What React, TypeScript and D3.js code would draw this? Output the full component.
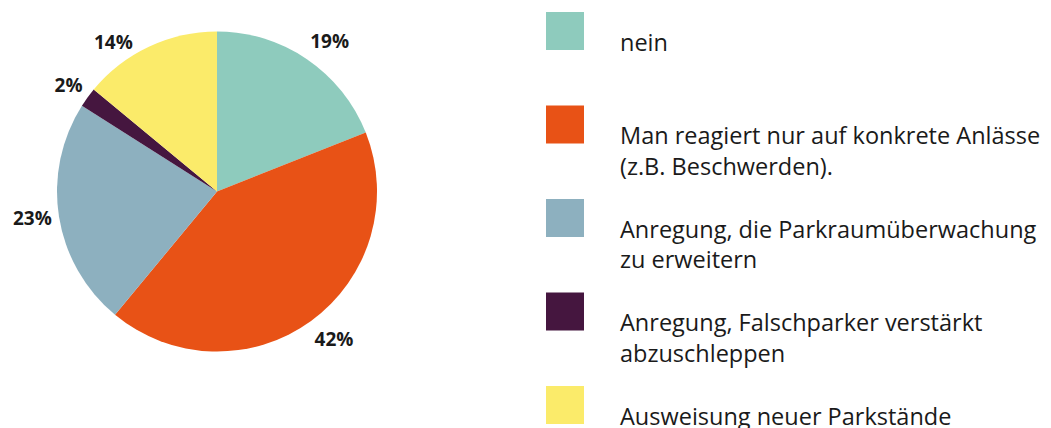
import React from "react";
import * as d3 from "d3";

const categories = [
  "nein",
  "Man reagiert nur auf konkrete Anlässe (z.B. Beschwerden).",
  "Anregung, die Parkraumüberwachung zu erweitern",
  "Anregung, Falschparker verstärkt abzuschleppen",
  "Ausweisung neuer Parkstände",
];
const values = [19, 42, 23, 2, 14];
const legendLines = [
  ["nein"],
  ["Man reagiert nur auf konkrete Anlässe", "(z.B. Beschwerden)."],
  ["Anregung, die Parkraumüberwachung", "zu erweitern"],
  ["Anregung, Falschparker verstärkt", "abzuschleppen"],
  ["Ausweisung neuer Parkstände"],
];
const colors = ["#8ECBBD", "#E85216", "#8DB0BF", "#45163F", "#FBEB6A"];

const W = 1051;
const H = 428;
const cx = 217;
const cy = 191.5;
const R = 160;
const FONT = "'Open Sans', 'Noto Sans', sans-serif";

export default function App() {
  const pie = d3
    .pie<number>()
    .sort(null)
    .value((d) => d)(values);
  const arc = d3.arc<d3.PieArcDatum<number>>().innerRadius(0).outerRadius(R);

  const labelSize = 19;
  const gap = 9;
  const labels = pie.map((p, i) => {
    const mid = (p.startAngle + p.endAngle) / 2;
    const ux = Math.sin(mid);
    const uy = -Math.cos(mid);
    const text = `${values[i]}%`;
    const w = text.length * labelSize * 0.62;
    const h = 22;
    const px = (R + gap) * ux;
    const py = (R + gap) * uy;
    const sx = Math.abs(ux) < 0.3 ? 0 : Math.sign(ux);
    const sy = Math.abs(uy) < 0.3 ? 0 : Math.sign(uy);
    let x = px + sx * w / 2;
    let y = py + sy * h / 2;
    // manual placement of the 14% label in the reference
    if (categories[i] === "Ausweisung neuer Parkstände") {
      x -= 14;
      y += 14;
    }
    if (categories[i] === "Anregung, Falschparker verstärkt abzuschleppen") {
      y += 4;
    }
    return { x, y, text };
  });

  const legendY = d3
    .scaleLinear()
    .domain([0, categories.length - 1])
    .range([12, 386]);
  const sq = 38;
  const lineH = 30.5;

  return (
    <svg
      width={W}
      height={H}
      style={{ position: "absolute", left: 0, top: 0, background: "#fff" }}
    >
      <g transform={`translate(${cx},${cy})`}>
        {pie.map((p, i) => (
          <path key={i} d={arc(p) || ""} fill={colors[i]} />
        ))}
        {labels.map((l, i) => (
          <text
            key={i}
            x={l.x}
            y={l.y}
            textAnchor="middle"
            dominantBaseline="central"
            fontFamily={FONT}
            fontWeight={700}
            fontSize={labelSize}
            fill="#1a1a1a"
          >
            {l.text}
          </text>
        ))}
      </g>
      <g>
        {categories.map((c, i) => {
          const y0 = legendY(i);
          return (
            <g key={c}>
              <rect x={546} y={y0} width={sq} height={sq} fill={colors[i]} />
              <text fontFamily={FONT} fontSize={23.5} fill="#1a1a1a">
                {legendLines[i].map((t, j) => (
                  <tspan key={j} x={620} y={y0 + sq + 0.5 + j * lineH}>
                    {t}
                  </tspan>
                ))}
              </text>
            </g>
          );
        })}
      </g>
    </svg>
  );
}
